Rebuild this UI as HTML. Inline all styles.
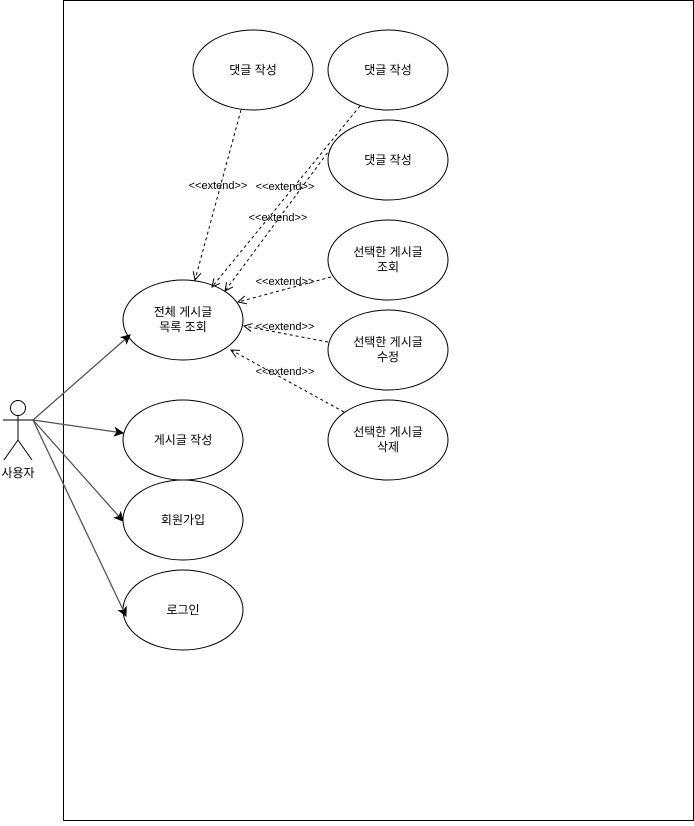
<!DOCTYPE html>
<html><head><meta charset="utf-8"><style>
body{margin:0;background:#fff;}
svg text{font-family:"Liberation Sans","Noto Sans CJK KR",sans-serif;font-size:12px;text-anchor:middle;fill:#000;}
svg text.e{font-size:11px;}
</style></head><body>
<svg width="694" height="821" viewBox="0 0 694 821" xmlns="http://www.w3.org/2000/svg">
<defs>
<marker id="o" markerWidth="10" markerHeight="10" refX="9" refY="5" orient="auto" markerUnits="userSpaceOnUse"><path d="M1,1 L9,5 L1,9" fill="none" stroke="#000"/></marker>
<marker id="f" markerWidth="10" markerHeight="10" refX="9" refY="5" orient="auto" markerUnits="userSpaceOnUse"><path d="M1,1 L9,5 L1,9 L3,5 Z" fill="#000" stroke="#000"/></marker>
</defs>
<rect x="63.5" y="0.5" width="630" height="820" fill="#fff" stroke="#000"/>
<g fill="#fff" stroke="#000">
<ellipse cx="253" cy="70" rx="60" ry="40"/>
<ellipse cx="388" cy="70" rx="60" ry="40"/>
<ellipse cx="388" cy="160" rx="60" ry="40"/>
<ellipse cx="388" cy="260" rx="60" ry="40"/>
<ellipse cx="388" cy="350" rx="60" ry="40"/>
<ellipse cx="388" cy="440" rx="60" ry="40"/>
<ellipse cx="183" cy="320" rx="60" ry="40"/>
<ellipse cx="183" cy="440" rx="60" ry="40"/>
<ellipse cx="183" cy="520" rx="60" ry="40"/>
<ellipse cx="183" cy="610" rx="60" ry="40"/>
</g>
<g stroke="#000" fill="none" stroke-dasharray="3,3" marker-end="url(#o)">
<line x1="241" y1="110" x2="195" y2="280"/>
<line x1="360" y1="106" x2="212" y2="287"/>
<line x1="331" y1="148" x2="225" y2="291"/>
<line x1="331" y1="277" x2="238" y2="302"/>
<line x1="328" y1="342" x2="244" y2="326"/>
<line x1="344" y1="412" x2="231" y2="350"/>
</g>
<g stroke="#555" stroke-width="1.3" marker-end="url(#f)">
<line x1="33" y1="420" x2="130" y2="335"/>
<line x1="33" y1="420" x2="123" y2="433"/>
<line x1="33" y1="420" x2="123" y2="521"/>
<line x1="33" y1="420" x2="126" y2="616"/>
</g>
<g stroke="#000" fill="#fff">
<circle cx="18" cy="408" r="7.5"/>
<line x1="18" y1="415" x2="18" y2="440"/>
<line x1="3" y1="420" x2="33" y2="420"/>
<line x1="18" y1="440" x2="4" y2="460"/>
<line x1="18" y1="440" x2="32" y2="460"/>
</g>
<text x="18" y="477">사용자</text>
<text x="253" y="74">댓글 작성</text>
<text x="388" y="74">댓글 작성</text>
<text x="388" y="164">댓글 작성</text>
<text x="388" y="256">선택한 게시글</text><text x="388" y="271">조회</text>
<text x="388" y="346">선택한 게시글</text><text x="388" y="361">수정</text>
<text x="388" y="436">선택한 게시글</text><text x="388" y="451">삭제</text>
<text x="183" y="316">전체 게시글</text><text x="183" y="331">목록 조회</text>
<text x="183" y="444">게시글 작성</text>
<text x="183" y="524">회원가입</text>
<text x="183" y="614">로그인</text>
<text class="e" x="218" y="189">&lt;&lt;extend&gt;&gt;</text>
<text class="e" x="285" y="190">&lt;&lt;extend&gt;&gt;</text>
<text class="e" x="278" y="221">&lt;&lt;extend&gt;&gt;</text>
<text class="e" x="285" y="285">&lt;&lt;extend&gt;&gt;</text>
<text class="e" x="285" y="330">&lt;&lt;extend&gt;&gt;</text>
<text class="e" x="285" y="375">&lt;&lt;extend&gt;&gt;</text>
</svg>
</body></html>
